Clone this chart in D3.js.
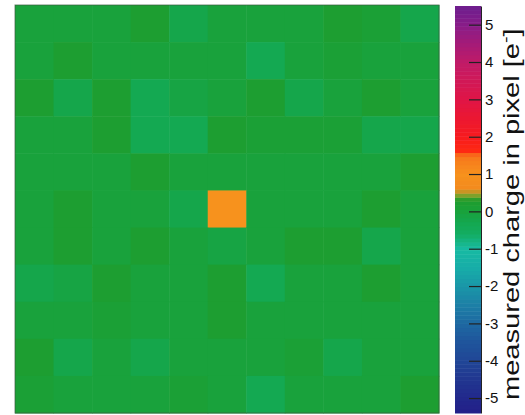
<!DOCTYPE html>
<html>
<head>
<meta charset="utf-8">
<script src="https://cdn.jsdelivr.net/npm/d3@7"></script>
<style>
  html, body { margin: 0; padding: 0; background: #fff; }
  svg { display: block; font-family: "Liberation Sans", Arial, Helvetica, sans-serif; }
</style>
</head>
<body>
<svg id="chart" width="525" height="415"></svg>
<script>
// Pixel columns / rows of the 11x11 readout window around the hit pixel
const cols = [-5, -4, -3, -2, -1, 0, 1, 2, 3, 4, 5];
const rows = [5, 4, 3, 2, 1, 0, -1, -2, -3, -4, -5];

// Measured charge per pixel [e-], one array per row (top row first)
const row5  = [ 0.02,  0.00,  0.03,  0.22, -0.20,  0.01,  0.00,  0.02,  0.22,  0.12, -0.18];
const row4  = [ 0.00,  0.22,  0.02,  0.01,  0.00,  0.03, -0.32,  0.00,  0.12,  0.02,  0.00];
const row3  = [ 0.22, -0.18,  0.24, -0.34, -0.12,  0.02,  0.22, -0.18,  0.02,  0.22,  0.01];
const row2  = [ 0.01,  0.02,  0.22, -0.34, -0.33,  0.22,  0.12,  0.12,  0.12, -0.18, -0.18];
const row1  = [ 0.02,  0.00,  0.01,  0.22,  0.02,  0.00,  0.01,  0.02,  0.00,  0.01,  0.22];
const row0  = [ 0.00,  0.22,  0.02,  0.01, -0.20,  1.00,  0.01,  0.00,  0.02,  0.22,  0.00];
const rowm1 = [ 0.02,  0.22,  0.00,  0.22,  0.01, -0.10,  0.02,  0.22,  0.22, -0.18,  0.01];
const rowm2 = [-0.18, -0.10,  0.22,  0.01,  0.02,  0.22, -0.32,  0.00,  0.02,  0.22,  0.00];
const rowm3 = [ 0.01,  0.02,  0.12,  0.00,  0.02,  0.22,  0.01,  0.02,  0.00,  0.01,  0.02];
const rowm4 = [ 0.22, -0.18,  0.01, -0.18,  0.00,  0.02,  0.00,  0.12, -0.18,  0.02,  0.01];
const rowm5 = [ 0.12,  0.02,  0.00,  0.01,  0.12,  0.02, -0.32,  0.01,  0.00,  0.02,  0.22];
const charge = [row5, row4, row3, row2, row1, row0, rowm1, rowm2, rowm3, rowm4, rowm5];

// Colour axis
const zRange = [-5.4, 5.5];
const zTicks = [-5, -4, -3, -2, -1, 0, 1, 2, 3, 4, 5];
const nLevels = 100;
const zTitle = "measured charge in pixel [e";

// Palette stops (value, colour)
const stopValues = [-5.4, -5.0, -4.5, -4.0, -3.5, -3.0, -2.5, -2.0, -1.5, -1.0, -0.6, -0.3, 0.0, 0.3, 0.45, 0.6, 1.0, 1.5, 1.6, 2.0, 3.0, 4.0, 4.5, 5.0, 5.5];
const stopColors = ["#231f88", "#22288c", "#213690", "#204696", "#1f559c", "#1e68a2", "#1c80a6", "#1a96a8", "#17ada8", "#17bba2",
                    "#13ad62", "#14a850", "#19a23c", "#1e9c2c", "#8ca22a", "#f28a1e", "#f7921d", "#f7761c", "#ff2a12", "#f71a1e",
                    "#e01546", "#c01b68", "#a41b78", "#881c88", "#6c1d8e"];

const svg = d3.select("#chart");
const W = 525, H = 415;

const plot = { x0: 15, x1: 439, y0: 5, y1: 413 };
const bar = { x0: 455, x1: 481, y0: 6, y1: 413 };

const x = d3.scaleBand().domain(cols).range([plot.x0, plot.x1]).padding(0);
const y = d3.scaleBand().domain(rows).range([plot.y0, plot.y1]).padding(0);

const cont = d3.scaleLinear().domain(stopValues).range(stopColors).interpolate(d3.interpolateRgb).clamp(true);
const levelWidth = (zRange[1] - zRange[0]) / nLevels;
function levelOf(v) {
  return Math.max(0, Math.min(nLevels - 1, Math.floor((v - zRange[0]) / levelWidth)));
}
function colorOf(v) {
  const k = levelOf(v);
  return cont(zRange[0] + (k + 0.5) * levelWidth);
}

// Cells
const cells = [];
charge.forEach((r, j) => r.forEach((v, i) => cells.push({ c: cols[i], r: rows[j], v })));
svg.append("g").selectAll("rect").data(cells).join("rect")
  .attr("x", d => x(d.c))
  .attr("y", d => y(d.r))
  .attr("width", x.bandwidth() + 0.5)
  .attr("height", y.bandwidth() + 0.5)
  .attr("fill", d => colorOf(d.v));

// Frame
svg.append("rect")
  .attr("x", plot.x0).attr("y", plot.y0)
  .attr("width", plot.x1 - plot.x0).attr("height", plot.y1 - plot.y0)
  .attr("fill", "none").attr("stroke", "#3a5a40").attr("stroke-width", 1).attr("stroke-opacity", 0.7);

// Colour bar
const z = d3.scaleLinear().domain(zRange).range([bar.y1, bar.y0]);
const levels = d3.range(nLevels).map(k => zRange[0] + k * levelWidth);
svg.append("g").selectAll("rect").data(levels).join("rect")
  .attr("x", bar.x0)
  .attr("width", bar.x1 - bar.x0)
  .attr("y", d => z(d + levelWidth))
  .attr("height", d => z(d) - z(d + levelWidth) + 0.5)
  .attr("fill", d => cont(d + levelWidth / 2));

const axis = d3.axisRight(z).tickValues(zTicks).tickFormat(d3.format("d"))
  .tickSizeInner(-12).tickSizeOuter(0).tickPadding(4);
const ag = svg.append("g").attr("transform", `translate(${bar.x1},0)`).call(axis);
ag.select(".domain").attr("stroke", "#222");
ag.selectAll(".tick line").attr("stroke", "#222").attr("stroke-width", 1.2);
ag.selectAll(".tick text").attr("font-size", 15).attr("fill", "#111")
  .attr("font-family", "'Liberation Sans', Arial, sans-serif").text(d => d < 0 ? "-" + Math.abs(d) : d);

// Colour axis title, stretched along the bar to span from about y=28 to y=400
const titleTop = 28, titleBottom = 400;
const tg = svg.append("g");
const t = tg.append("text")
  .attr("text-anchor", "start")
  .attr("font-size", 22)
  .attr("fill", "#111");
t.append("tspan").text(zTitle);
t.append("tspan").attr("dy", -8).attr("font-size", 15).text("-");
t.append("tspan").attr("dy", 8).text("]");
const tw = t.node().getBBox().width;
const sx = (titleBottom - titleTop) / tw;
tg.attr("transform", `translate(${W - 6},${titleBottom}) rotate(-90) scale(${sx},1)`);
</script>
</body>
</html>
